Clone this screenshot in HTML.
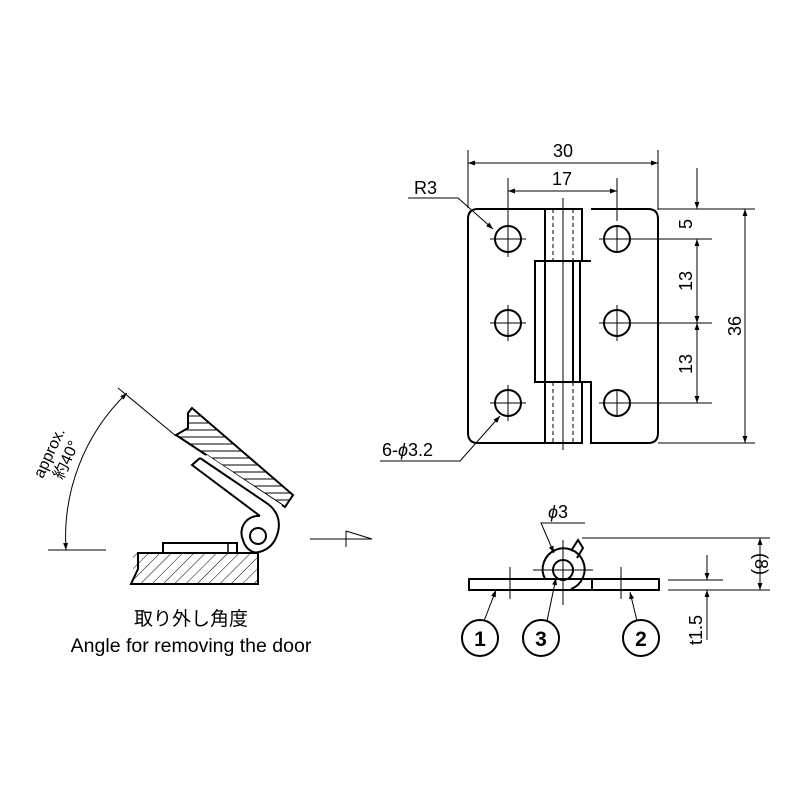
<!DOCTYPE html>
<html><head><meta charset="utf-8"><style>body{margin:0;background:#fff}svg{display:block}text{font-family:"Liberation Sans","Noto Sans CJK JP",sans-serif;fill:#000}</style></head><body>
<svg width="800" height="800" viewBox="0 0 800 800" xmlns="http://www.w3.org/2000/svg">
<defs>
<marker id="a" viewBox="0 0 10 10" refX="10" refY="5" markerWidth="10" markerHeight="7" orient="auto-start-reverse" markerUnits="userSpaceOnUse"><path d="M0,1.5L10,5L0,8.5z" fill="#000"/></marker>
<pattern id="h1" patternUnits="userSpaceOnUse" width="8" height="8" patternTransform="rotate(45)"><line x1="0" y1="0" x2="0" y2="8" stroke="#000" stroke-width="1"/></pattern>
<pattern id="h2" patternUnits="userSpaceOnUse" width="8" height="7"><line x1="0" y1="3" x2="8" y2="3" stroke="#000" stroke-width="1"/></pattern>
</defs>
<g fill="none" stroke="#000">
<!-- top view -->
<g stroke-width="2">
<path d="M545,209 L478,209 Q468,209 468,219 L468,433 Q468,443 478,443 L545,443"/>
<path d="M545,209 L582,209 L582,261 M545,209 L545,261 M535,261 L580,261 L580,382 L535,382 Z M545,382 L545,443 L582,443 L582,382"/>
<path d="M591,209 L648,209 Q658,209 658,219 L658,433 Q658,443 648,443 L591,443 L591,382 L580,382 M580,261 L591,261 Z"/>
<line x1="545" y1="261" x2="545" y2="382"/><line x1="573" y1="261" x2="573" y2="382"/>
</g>
<g stroke-width="1" stroke-dasharray="4,3"><line x1="553" y1="209" x2="553" y2="261"/><line x1="573" y1="209" x2="573" y2="261"/><line x1="553" y1="382" x2="553" y2="443"/><line x1="573" y1="382" x2="573" y2="443"/></g>
<line x1="563" y1="198" x2="563" y2="450" stroke-width="1"/>
<g stroke-width="2"><circle cx="508" cy="239" r="13"/><circle cx="617" cy="239" r="13"/><circle cx="508" cy="323" r="13"/><circle cx="617" cy="323" r="13"/><circle cx="508" cy="403" r="13"/><circle cx="617" cy="403" r="13"/></g>
<g stroke-width="1">
<path d="M490,239h36M508,221v36M490,323h36M508,305v36M490,403h36M508,385v36M599,323h18M617,305v36M599,239h18M617,225v28M599,403h18M617,389v28"/>
<path d="M468,150v58M658,150v60M508,178v43M617,178v43"/>
<line x1="468" y1="163" x2="658" y2="163" marker-start="url(#a)" marker-end="url(#a)"/>
<line x1="508" y1="191" x2="617" y2="191" marker-start="url(#a)" marker-end="url(#a)"/>
<path d="M658,209h97M617,239h95M617,323h95M617,403h95M658,443h97"/>
<line x1="697" y1="168" x2="697" y2="209" marker-end="url(#a)"/>
<line x1="697" y1="239" x2="697" y2="323" marker-start="url(#a)" marker-end="url(#a)"/>
<line x1="697" y1="323" x2="697" y2="403" marker-start="url(#a)" marker-end="url(#a)"/>
<line x1="745" y1="209" x2="745" y2="443" marker-start="url(#a)" marker-end="url(#a)"/>
<polyline points="408,198 458,198 493,229" marker-end="url(#a)"/>
<polyline points="380,461 460,461 500,416" marker-end="url(#a)"/>
</g>
<!-- side view bottom right -->
<g stroke-width="2">
<rect x="469" y="579" width="190" height="11"/><line x1="592" y1="579" x2="592" y2="590"/>
<path d="M571,589 A21,21 0 1 0 545,579"/>
<circle cx="563" cy="570" r="10"/>
<path d="M571,551 L578,540 L583,548 L577,558"/>
</g>
<g stroke-width="1">
<path d="M533,570h60M563,540v65M510,567v32M621,567v32"/>
<polyline points="585,523 541,523 554,553" marker-end="url(#a)"/>
<path d="M582,538h188M668,580h55M668,590h102"/>
<line x1="760" y1="538" x2="760" y2="590" marker-start="url(#a)" marker-end="url(#a)"/>
<line x1="707" y1="555" x2="707" y2="580" marker-end="url(#a)"/>
<line x1="707" y1="640" x2="707" y2="590" marker-end="url(#a)"/>
<line x1="484" y1="621" x2="496" y2="590" marker-end="url(#a)"/>
<line x1="547" y1="621" x2="556" y2="578" marker-end="url(#a)"/>
<line x1="637" y1="621" x2="630" y2="592" marker-end="url(#a)"/>
</g>
<g stroke-width="2"><circle cx="480" cy="638" r="18"/><circle cx="541" cy="638" r="18"/><circle cx="641" cy="638" r="18"/></g>
<!-- left angle view -->
<rect x="133" y="553" width="125" height="31" fill="url(#h1)" stroke="none"/>
<path d="M138,553 L258,553 L258,584 L131,584 L138,569 Z" stroke-width="2"/>
<rect x="163" y="543" width="74" height="10" fill="#fff" stroke-width="2"/>
<path d="M228,543v10" stroke-width="1.5"/>
<polygon points="192,408 188,413 188,428 176,435 285,507 293,495" fill="url(#h2)" stroke="#000" stroke-width="2"/>
<polygon points="200,458 192,465 262,515 276,513 282,505 207,455" fill="#fff" stroke="none"/>
<path d="M200,458 L192,465 L260,516" stroke-width="2"/>
<path d="M200,458 L268,504 Q282,515 278,532 Q273,552 252,553 L237,553" stroke-width="2"/>
<path d="M260,516 A17,17 0 0 0 243,540 Q246,551 257,553" stroke-width="2"/>
<circle cx="258" cy="536" r="8" stroke-width="2"/>
<g stroke-width="1">
<path d="M48,550h58M118,388L176,436"/>
<path d="M66,550 A200,200 0 0 1 127,393" marker-start="url(#a)" marker-end="url(#a)"/>
<path d="M310,539h36"/><path d="M346,531v16M346,531L372,539H346"/>
</g>
</g>
<g font-size="18">
<text x="563" y="157" text-anchor="middle">30</text>
<text x="562" y="185" text-anchor="middle">17</text>
<text x="414" y="194">R3</text>
<text x="382" y="456">6-<tspan font-style="italic">ϕ</tspan>3.2</text>
<text transform="translate(692,224) rotate(-90)" text-anchor="middle">5</text>
<text transform="translate(692,281) rotate(-90)" text-anchor="middle">13</text>
<text transform="translate(692,364) rotate(-90)" text-anchor="middle">13</text>
<text transform="translate(741,326) rotate(-90)" text-anchor="middle">36</text>
<text x="548" y="518"><tspan font-style="italic">ϕ</tspan>3</text>
<text transform="translate(755,564) rotate(90)" text-anchor="middle">(8)</text>
<text transform="translate(702,630) rotate(-90)" text-anchor="middle">t1.5</text>
<text x="480" y="646" text-anchor="middle" font-size="21" font-weight="bold">1</text>
<text x="541" y="646" text-anchor="middle" font-size="21" font-weight="bold">3</text>
<text x="641" y="646" text-anchor="middle" font-size="21" font-weight="bold">2</text>
<text x="191" y="625" text-anchor="middle" font-size="19">取り外し角度</text>
<text x="191" y="652" text-anchor="middle" font-size="19.5">Angle for removing the door</text>
<text transform="translate(54,455) rotate(-65)" text-anchor="middle" font-size="16">approx.</text>
<text transform="translate(71,462) rotate(-65)" text-anchor="middle" font-size="16">約40°</text>
</g>
</svg>
</body></html>
